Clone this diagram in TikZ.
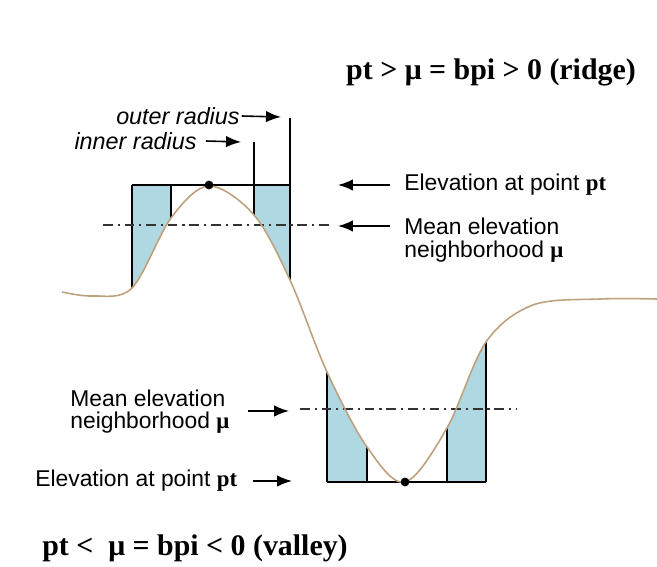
\documentclass[tikz,border=0pt]{standalone}
\usepackage{fontspec}
\setmainfont{Liberation Serif}
\setsansfont{Liberation Sans}
\usetikzlibrary{arrows.meta}
\definecolor{terrainTan}{RGB}{190,160,124}
\definecolor{bufferBlue}{RGB}{176,216,226}
\colorlet{DashGrey}{black!80}

\begin{document}
\begin{tikzpicture}[x=0.02cm,y=-0.02cm,
    terrain/.style={draw=terrainTan,line width=0.9pt},
    edge/.style={draw=black,line width=0.85pt},
    meanline/.style={DashGrey,line width=0.9pt,
      dash pattern=on 5.5pt off 2.8pt on 1.2pt off 2.8pt},
    ptr/.style={-{Latex[length=3mm,width=2.3mm]},line width=0.9pt},
    dot/.style={circle,fill=black,minimum size=5pt,inner sep=0pt},
    lab/.style={font=\sffamily\fontsize{13}{15}\selectfont,inner sep=0pt},
    rad/.style={font=\sffamily\itshape\fontsize{13.3}{15}\selectfont,inner sep=0pt},
    rule/.style={font=\rmfamily\bfseries\fontsize{17}{20}\selectfont,inner sep=0pt}
  ]
  \useasboundingbox (0,0) rectangle (657,567);
  % terrain profile, reused for the clips
  \def\profile{plot[smooth,tension=0.55] coordinates {
    (62,292) (93,296) (132,288) (171,218) (209,186) (254,215) (290,280)
    (327,372) (367,447) (405,482) (447,428) (486,342) (533,305) (600,299) (657,299)}}

  % ridge : buffers above the profile
  \begin{scope}
    \clip \profile -- (657,0) -- (62,0) -- cycle;
    \fill[bufferBlue] (132,185) rectangle (171,300) (254,185) rectangle (290,300);
    \foreach \x/\y in {132/185,171/185,254/142,290/118}
      \draw[edge] (\x,\y) -- (\x,300);
  \end{scope}
  \draw[edge] (132,185) -- (290,185);

  % valley : buffers below the profile
  \begin{scope}
    \clip \profile -- (657,567) -- (62,567) -- cycle;
    \fill[bufferBlue] (327,330) rectangle (367,482) (447,330) rectangle (486,482);
    \foreach \x in {327,367,447,486}
      \draw[edge] (\x,330) -- (\x,482);
  \end{scope}
  \draw[edge] (327,482) -- (486,482);

  \draw[meanline] (103,225) -- (330,225);
  \draw[meanline] (300,409) -- (517,409);

  \draw[terrain] \profile;
  \node[dot] (peak) at (209,185) {};
  \node[dot] (pit) at (405,482) {};

  % ridge labels
  \node[rule] (ridge) at (491,72) {pt > μ = bpi > 0 (ridge)};
  \node[rad,anchor=east] (outerlab) at (240,116) {outer radius};
  \node[rad,anchor=east] (innerlab) at (197,141) {inner radius};
  \coordinate (outertip) at (281,117);
  \coordinate (innertip) at (241,142);
  \draw[ptr] ([xshift=1pt]outerlab.east) -- (outertip);
  \draw[ptr] ([xshift=5pt]innerlab.east) -- (innertip);

  \node[lab,anchor=west] (elevR) at (404,185) {Elevation at point {\rmfamily\bfseries pt}};
  \node[lab,anchor=west] (meanR) at (404,226) {Mean elevation};
  \node[lab,anchor=west] (nbhdR) at (404,252) {neighborhood {\rmfamily\bfseries μ}};
  \coordinate (elevRtip) at (338,185);
  \coordinate (meanRtip) at (338,226);
  \draw[ptr] ([xshift=-8pt]elevR.west) -- (elevRtip);
  \draw[ptr] ([xshift=-8pt]meanR.west) -- (meanRtip);

  % valley labels
  \node[lab,anchor=west] (meanL) at (70,398) {Mean elevation};
  \node[lab,anchor=west] (nbhdL) at (70,423) {neighborhood {\rmfamily\bfseries μ}};
  \node[lab,anchor=west] (elevL) at (35,481) {Elevation at point {\rmfamily\bfseries pt}};
  \coordinate (meanLtail) at (248,411);
  \coordinate (meanLtip) at (289,411);
  \coordinate (elevLtip) at (292,481);
  \draw[ptr] (meanLtail) -- (meanLtip);
  \draw[ptr] ([xshift=9pt]elevL.east) -- (elevLtip);
  \node[rule] (valley) at (195,548) {pt <\ \ μ = bpi < 0 (valley)};
\end{tikzpicture}
\end{document}
